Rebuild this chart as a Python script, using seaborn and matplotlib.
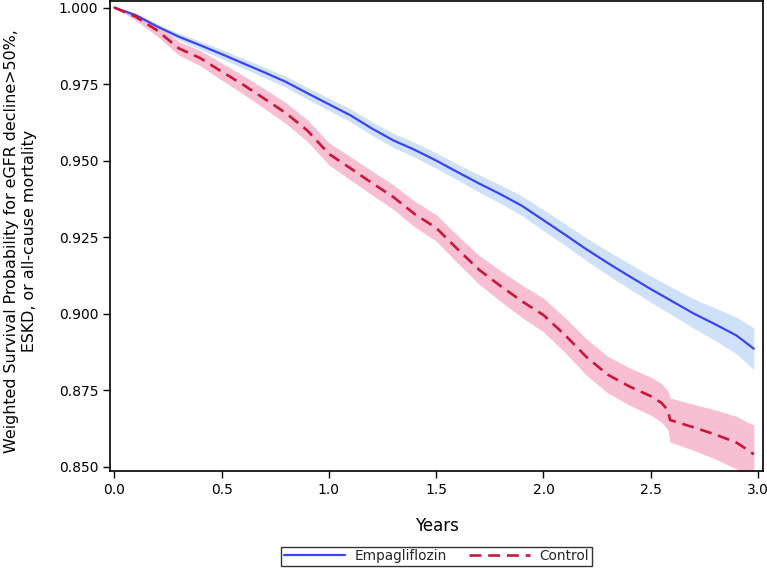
import matplotlib
matplotlib.use("Agg")
import matplotlib.pyplot as plt
import numpy as np
import pandas as pd
import seaborn as sns

# Weighted KM estimates
empa_years = [0.0, 0.1, 0.2, 0.3, 0.4, 0.5, 0.6, 0.7, 0.8, 0.9, 1.0, 1.1, 1.2, 1.3, 1.4, 1.5,
              1.6, 1.7, 1.8, 1.9, 2.0, 2.1, 2.2, 2.3, 2.4, 2.5, 2.6, 2.7, 2.8, 2.9, 2.98]
empa_surv = [1.0, 0.9975, 0.9938, 0.9905, 0.9877, 0.9848, 0.9818, 0.9788, 0.9757, 0.9720, 0.9684,
             0.9648, 0.9605, 0.9566, 0.9535, 0.9500, 0.9462, 0.9425, 0.9390, 0.9352, 0.9305,
             0.9258, 0.9210, 0.9165, 0.9122, 0.9080, 0.9040, 0.9000, 0.8965, 0.8928, 0.8885]
empa_ci_half = [0.0, 0.0006, 0.0009, 0.0011, 0.0013, 0.0015, 0.0016, 0.0017, 0.0018, 0.0019, 0.0020,
                0.0021, 0.0022, 0.0023, 0.0024, 0.0025, 0.0026, 0.0028, 0.0030, 0.0032, 0.0034,
                0.0035, 0.0037, 0.0039, 0.0041, 0.0043, 0.0045, 0.0048, 0.0053, 0.0060, 0.0068]

ctrl_years = [0.0, 0.1, 0.2, 0.3, 0.4, 0.5, 0.6, 0.7, 0.8, 0.9, 1.0, 1.1, 1.2, 1.3, 1.4, 1.5,
              1.6, 1.7, 1.8, 1.9, 2.0, 2.1, 2.2, 2.3, 2.4, 2.5, 2.55, 2.58, 2.59, 2.7, 2.8,
              2.9, 2.95, 2.98]
ctrl_surv = [1.0, 0.9970, 0.9925, 0.9867, 0.9835, 0.9791, 0.9748, 0.9702, 0.9655, 0.9598, 0.9522,
             0.9475, 0.9427, 0.9381, 0.9325, 0.9280, 0.9210, 0.9143, 0.9090, 0.9040, 0.8995,
             0.8930, 0.8858, 0.8800, 0.8762, 0.8730, 0.8708, 0.8684, 0.8652, 0.8628, 0.8605,
             0.8578, 0.8555, 0.8540]
ctrl_ci_half = [0.0, 0.0012, 0.0018, 0.0022, 0.0025, 0.0028, 0.0030, 0.0032, 0.0034, 0.0035, 0.0036,
                0.0038, 0.0039, 0.0040, 0.0042, 0.0043, 0.0045, 0.0047, 0.0050, 0.0053, 0.0055,
                0.0057, 0.0059, 0.0060, 0.0061, 0.0062, 0.0063, 0.0064, 0.0072, 0.0075, 0.0080,
                0.0086, 0.0090, 0.0095]

y_ticks = [0.850, 0.875, 0.900, 0.925, 0.950, 0.975, 1.000]
x_ticks = [0.0, 0.5, 1.0, 1.5, 2.0, 2.5, 3.0]

blue = "#3a44f2"
blue_band = "#cfe1f8"
red = "#c8173c"
red_band = "#f7bfd1"


def main():
    sns.set_style("ticks")
    plt.rcParams['font.family'] = ['DejaVu Sans']

    empa = pd.DataFrame({'years': empa_years, 'surv': empa_surv, 'half': empa_ci_half})
    ctrl = pd.DataFrame({'years': ctrl_years, 'surv': ctrl_surv, 'half': ctrl_ci_half})

    fig = plt.figure(figsize=(7.67, 5.69), dpi=100)
    ax = fig.add_axes([0.1434, 0.172, 0.8514, 0.826])

    # confidence bands first so the lines sit on top
    ax.fill_between(empa['years'], empa['surv'] - empa['half'], empa['surv'] + empa['half'],
                    color=blue_band, lw=0)
    ax.fill_between(ctrl['years'], ctrl['surv'] - ctrl['half'], ctrl['surv'] + ctrl['half'],
                    color=red_band, lw=0)

    sns.lineplot(data=empa, x='years', y='surv', ax=ax, color=blue, lw=1.6,
                 label='Empagliflozin', estimator=None, sort=False)
    sns.lineplot(data=ctrl, x='years', y='surv', ax=ax, color=red, lw=1.9,
                 dashes=False, label='Control', estimator=None, sort=False)
    ax.lines[-1].set_dashes((4.5, 2.6))

    ax.set_xlim(-0.02, 3.023)
    ax.set_ylim(0.8485, 1.0021)
    ax.set_xticks(x_ticks)
    ax.set_xticklabels([f'{t:.1f}' for t in x_ticks])
    ax.set_yticks(y_ticks)
    ax.set_yticklabels([f'{t:.3f}' for t in y_ticks])
    ax.tick_params(axis='both', labelsize=10, length=5, width=1, color='black', labelcolor='black')

    for s in ax.spines.values():
        s.set_color('black')
        s.set_linewidth(1.2)

    ax.set_xlabel('Years', fontsize=12, color='black')
    ax.xaxis.set_label_coords(0.5, -0.097)
    ax.set_ylabel('Weighted Survival Probability for eGFR decline>50%,\nESKD, or all-cause mortality',
                  fontsize=11.4, color='black', linespacing=1.2)
    ax.yaxis.set_label_coords(-0.112, 0.49)

    handles, labels = ax.get_legend_handles_labels()
    ax.get_legend().remove()
    leg = fig.legend(handles, labels, loc='upper center', bbox_to_anchor=(0.569, 0.0395),
                     ncol=2, fontsize=9.8, frameon=True, fancybox=False, handlelength=4.5,
                     borderpad=0.2, columnspacing=1.6, handletextpad=0.7, borderaxespad=0)
    leg.get_frame().set_edgecolor('black')
    leg.get_frame().set_linewidth(1.0)

    fig.savefig('out.png', dpi=100)


if __name__ == "__main__":
    main()
